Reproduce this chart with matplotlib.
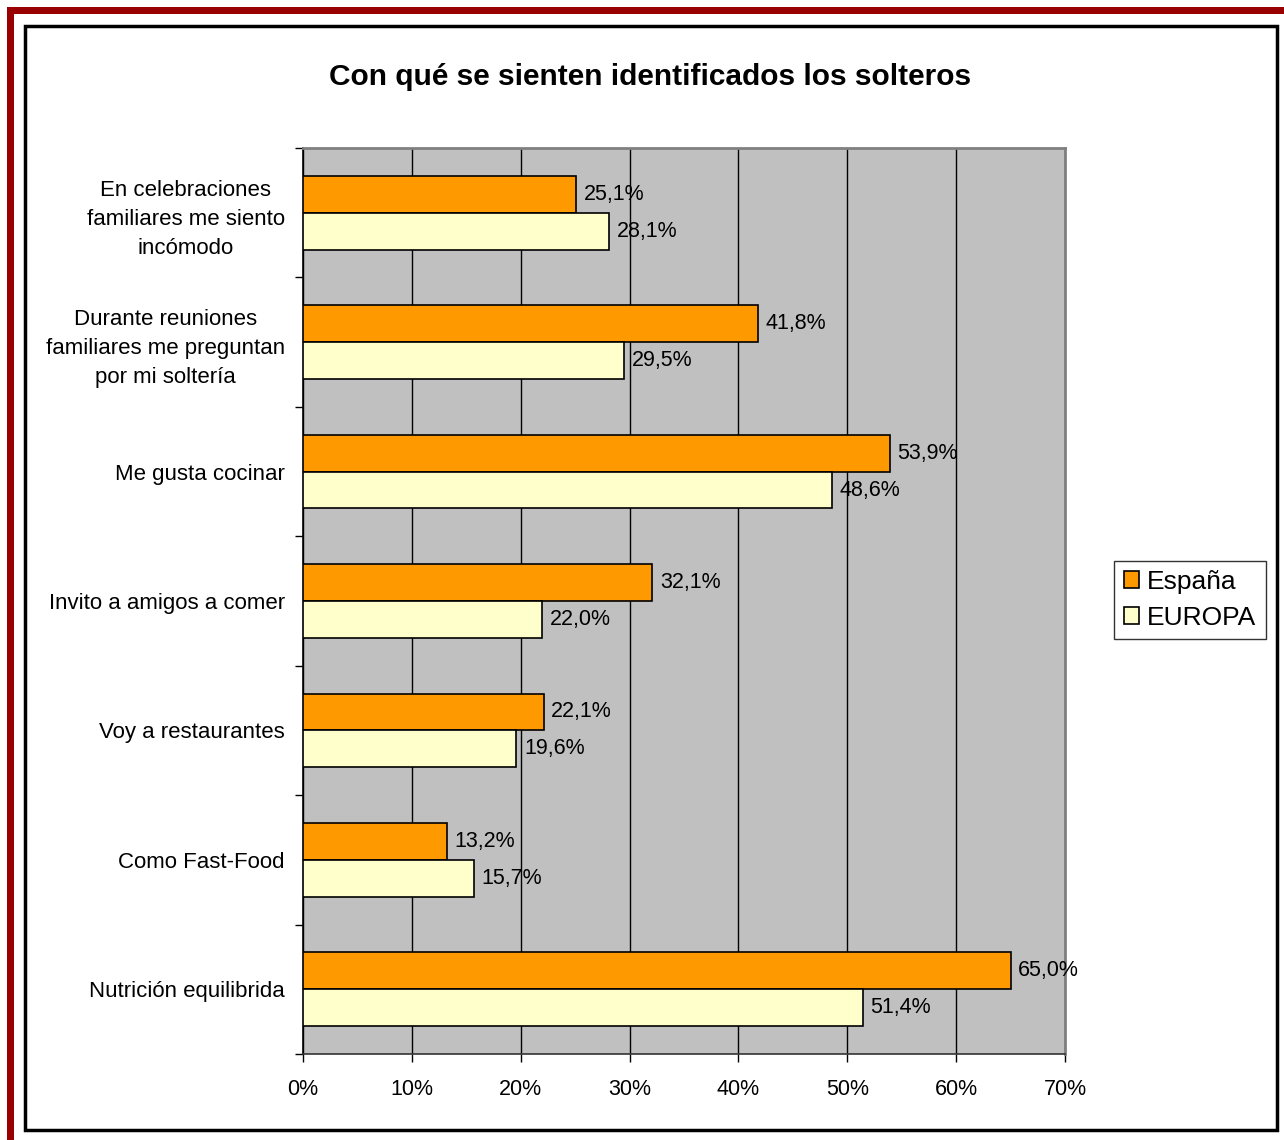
import matplotlib.pyplot as plt
import numpy as np
from matplotlib.patches import Rectangle

plt.rcParams['font.family'] = ['Liberation Sans', 'DejaVu Sans']

# data, top to bottom as in the chart
categories = ['En celebraciones\nfamiliares me siento\nincómodo',
              'Durante reuniones\nfamiliares me preguntan\npor mi soltería',
              'Me gusta cocinar',
              'Invito a amigos a comer',
              'Voy a restaurantes',
              'Como Fast-Food',
              'Nutrición equilibrida']
espana = [25.1, 41.8, 53.9, 32.1, 22.1, 13.2, 65.0]
europa = [28.1, 29.5, 48.6, 22.0, 19.6, 15.7, 51.4]
series_names = ['España', 'EUROPA']
xticks = [0, 10, 20, 30, 40, 50, 60, 70]

fig = plt.figure(figsize=(12.84, 11.4), dpi=100)

# outer frames: red on top/left, black box
fig.add_artist(Rectangle((7 / 1284, -0.1), 7 / 1284, 1.1 - 7 / 1140,
                         transform=fig.transFigure, facecolor='#990000', edgecolor='none'))
fig.add_artist(Rectangle((7 / 1284, 1 - 14 / 1140), 1.1, 7 / 1140, transform=fig.transFigure,
                         facecolor='#990000', edgecolor='none'))
fig.add_artist(Rectangle((25 / 1284, 1 - 1130 / 1140), 1252 / 1284, 1104 / 1140,
                         transform=fig.transFigure, facecolor='none',
                         edgecolor='black', linewidth=2.5))

ax = fig.add_axes([303 / 1284, 1 - 1054 / 1140, 762 / 1284, 906 / 1140])
ax.set_facecolor('#C0C0C0')

n = len(categories)
y = np.arange(n)[::-1].astype(float)
h = 0.285
ax.barh(y + h / 2, espana, height=h, color='#FF9900', edgecolor='black',
        linewidth=1.2, label=series_names[0], zorder=3)
ax.barh(y - h / 2, europa, height=h, color='#FFFFCC', edgecolor='black',
        linewidth=1.2, label=series_names[1], zorder=3)

for yi, v in zip(y + h / 2, espana):
    ax.text(v + 0.7, yi, f'{v:.1f}%'.replace('.', ','), va='center', ha='left',
            fontsize=15.5, zorder=4)
for yi, v in zip(y - h / 2, europa):
    ax.text(v + 0.7, yi, f'{v:.1f}%'.replace('.', ','), va='center', ha='left',
            fontsize=15.5, zorder=4)

ax.set_xlim(0, 70)
ax.set_ylim(-0.5, n - 0.5)
ax.set_xticks(xticks)
ax.set_xticklabels([f'{t}%' for t in xticks], fontsize=15.5)
ax.xaxis.grid(True, color='black', linewidth=1, zorder=1)
ax.set_axisbelow(True)

ax.set_yticks(y)
ax.set_yticklabels(categories, fontsize=16, ha='right', multialignment='center',
                   linespacing=1.5)
ax.tick_params(axis='y', length=0, pad=13)
ax.set_yticks(np.arange(n + 1) - 0.5, minor=True)
ax.tick_params(axis='y', which='minor', length=6, width=1)
ax.tick_params(axis='x', length=6, width=1, pad=12)

for s in ['top', 'right']:
    ax.spines[s].set_color('#808080')
    ax.spines[s].set_linewidth(2)
ax.spines['left'].set_color('black')
ax.spines['bottom'].set_color('#333333')
ax.spines['left'].set_linewidth(1.2)
ax.spines['bottom'].set_linewidth(1.2)

fig.text(650 / 1284, 1 - 77 / 1140, 'Con qué se sienten identificados los solteros',
         ha='center', va='center', fontsize=21.5, fontweight='bold')

leg = fig.legend(loc='center', bbox_to_anchor=(1190 / 1284, 1 - 600 / 1140),
                 fontsize=19, frameon=True, fancybox=False, edgecolor='black',
                 handlelength=0.6, handleheight=0.6, handletextpad=0.3,
                 borderpad=0.35, labelspacing=0.45)
leg.get_frame().set_linewidth(1)

fig.savefig('out.png', dpi=100)
